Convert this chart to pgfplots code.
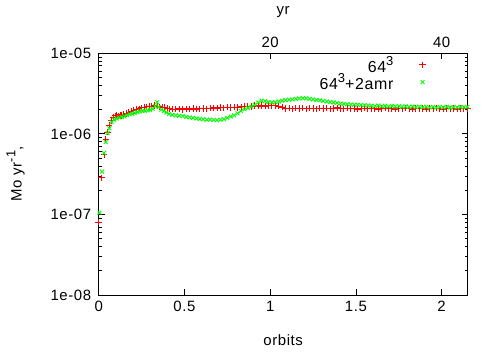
\documentclass[border=0pt]{standalone}
\usepackage{fontspec}
\setmainfont{Liberation Sans}[LetterSpace=4]
\usepackage{pgfplots}
\usepackage{pgfplotstable}
\pgfplotsset{compat=1.18}
\definecolor{gpred}{rgb}{1,0,0}
\definecolor{gpgreen}{rgb}{0,1,0}

\pgfplotstableread{
x y
0.000 8.0e-8
0.017 2.85e-7
0.031 5.5e-7
0.041 8.5e-7
0.052 1.05e-6
0.060 1.27e-6
0.074 1.46e-6
0.085 1.62e-6
0.095 1.68e-6
0.105 1.70e-6
0.115 1.66e-6
0.125 1.72e-6
0.135 1.70e-6
0.145 1.75e-6
0.160 1.80e-6
0.175 1.86e-6
0.190 1.92e-6
0.205 1.96e-6
0.220 2.00e-6
0.235 2.05e-6
0.250 2.10e-6
0.265 2.13e-6
0.280 2.16e-6
0.295 2.18e-6
0.310 2.20e-6
0.325 2.24e-6
0.340 2.20e-6
0.355 2.17e-6
0.370 2.15e-6
0.385 2.12e-6
0.400 2.08e-6
0.415 2.05e-6
0.430 2.03e-6
0.45 2.02e-6
0.47 2.05e-6
0.49 2.01e-6
0.51 2.04e-6
0.53 2.02e-6
0.55 2.06e-6
0.57 2.03e-6
0.59 2.05e-6
0.61 2.07e-6
0.63 2.05e-6
0.65 2.08e-6
0.67 2.10e-6
0.69 2.08e-6
0.71 2.12e-6
0.73 2.10e-6
0.75 2.14e-6
0.77 2.12e-6
0.79 2.15e-6
0.81 2.13e-6
0.83 2.17e-6
0.85 2.20e-6
0.87 2.22e-6
0.89 2.19e-6
0.91 2.24e-6
0.93 2.21e-6
0.95 2.25e-6
0.97 2.22e-6
0.99 2.26e-6
1.01 2.23e-6
1.03 2.25e-6
1.05 2.22e-6
1.07 2.15e-6
1.09 2.06e-6
1.11 2.08e-6
1.13 2.05e-6
1.15 2.09e-6
1.17 2.06e-6
1.19 2.08e-6
1.21 2.05e-6
1.23 2.09e-6
1.25 2.07e-6
1.27 2.05e-6
1.29 2.08e-6
1.31 2.06e-6
1.33 2.09e-6
1.35 2.05e-6
1.37 2.07e-6
1.39 2.10e-6
1.41 2.06e-6
1.43 2.04e-6
1.45 2.08e-6
1.47 2.05e-6
1.49 2.07e-6
1.51 2.03e-6
1.53 2.06e-6
1.55 2.08e-6
1.57 2.04e-6
1.59 2.07e-6
1.61 2.05e-6
1.63 2.02e-6
1.65 2.06e-6
1.67 2.08e-6
1.69 2.04e-6
1.71 2.07e-6
1.73 2.03e-6
1.75 2.06e-6
1.77 2.04e-6
1.79 2.08e-6
1.81 2.05e-6
1.83 2.02e-6
1.85 2.06e-6
1.87 2.04e-6
1.89 2.07e-6
1.91 2.03e-6
1.93 2.06e-6
1.95 2.04e-6
1.97 2.08e-6
1.99 2.05e-6
2.01 2.02e-6
2.03 2.06e-6
2.05 2.04e-6
2.07 2.07e-6
2.09 2.03e-6
2.11 2.06e-6
2.13 2.04e-6
2.15 2.06e-6
}\redtab

\pgfplotstableread{
x y
0.004 1.05e-7
0.020 3.4e-7
0.031 5.8e-7
0.041 7.9e-7
0.052 1.02e-6
0.062 1.17e-6
0.075 1.40e-6
0.090 1.50e-6
0.105 1.55e-6
0.120 1.60e-6
0.135 1.62e-6
0.150 1.65e-6
0.165 1.70e-6
0.180 1.75e-6
0.195 1.78e-6
0.210 1.82e-6
0.225 1.86e-6
0.240 1.90e-6
0.255 1.92e-6
0.270 1.94e-6
0.285 1.96e-6
0.300 1.98e-6
0.315 2.05e-6
0.330 2.20e-6
0.340 2.47e-6
0.350 2.15e-6
0.365 2.00e-6
0.380 1.92e-6
0.395 1.84e-6
0.41 1.77e-6
0.43 1.72e-6
0.45 1.70e-6
0.47 1.68e-6
0.49 1.66e-6
0.51 1.62e-6
0.53 1.60e-6
0.55 1.58e-6
0.57 1.55e-6
0.59 1.53e-6
0.61 1.52e-6
0.63 1.50e-6
0.65 1.50e-6
0.67 1.49e-6
0.69 1.48e-6
0.71 1.50e-6
0.73 1.52e-6
0.75 1.58e-6
0.77 1.64e-6
0.79 1.70e-6
0.81 1.80e-6
0.83 1.92e-6
0.85 2.02e-6
0.87 2.10e-6
0.89 2.18e-6
0.91 2.30e-6
0.93 2.45e-6
0.95 2.58e-6
0.97 2.55e-6
0.99 2.48e-6
1.01 2.45e-6
1.03 2.47e-6
1.05 2.52e-6
1.07 2.58e-6
1.09 2.62e-6
1.11 2.66e-6
1.13 2.68e-6
1.15 2.72e-6
1.17 2.75e-6
1.19 2.77e-6
1.21 2.76e-6
1.23 2.72e-6
1.25 2.68e-6
1.27 2.64e-6
1.29 2.60e-6
1.31 2.56e-6
1.33 2.52e-6
1.35 2.48e-6
1.37 2.45e-6
1.39 2.42e-6
1.41 2.38e-6
1.43 2.35e-6
1.45 2.33e-6
1.47 2.32e-6
1.49 2.30e-6
1.51 2.30e-6
1.53 2.28e-6
1.55 2.27e-6
1.57 2.25e-6
1.59 2.24e-6
1.61 2.21e-6
1.63 2.25e-6
1.65 2.20e-6
1.67 2.23e-6
1.69 2.19e-6
1.71 2.22e-6
1.73 2.18e-6
1.75 2.21e-6
1.77 2.17e-6
1.79 2.20e-6
1.81 2.16e-6
1.83 2.19e-6
1.85 2.15e-6
1.87 2.18e-6
1.89 2.14e-6
1.91 2.17e-6
1.93 2.13e-6
1.95 2.16e-6
1.97 2.12e-6
1.99 2.16e-6
2.01 2.13e-6
2.03 2.17e-6
2.05 2.12e-6
2.07 2.16e-6
2.09 2.13e-6
2.11 2.17e-6
2.13 2.14e-6
2.15 2.16e-6
}\greentab

\newcommand{\sups}[1]{\raisebox{0.8ex}{\fontsize{13}{13}\selectfont #1}}

\begin{document}
\begin{tikzpicture}[font=\fontsize{15}{17}\selectfont]
\begin{axis}[
  at={(0,0)}, anchor=south west,
  scale only axis, width=369bp, height=241.7bp,
  xmin=0, xmax=2.152,
  ymode=log, ymin=1e-8, ymax=1e-5,
  xtick={0,0.5,1,1.5,2},
  xticklabels={0,0.5,1,1.5,2},
  xtick pos=left,
  ytick={1e-8,1e-7,1e-6,1e-5},
  yticklabels={1e-08,1e-07,1e-06,1e-05},
  ytick pos=both,
  tick align=inside,
  major tick length=6bp, minor tick length=3bp,
  axis line style={line width=0.8bp},
  every tick/.style={black, line width=0.8bp},
  xlabel={orbits},
  ylabel={Mo yr\sups{-1},},
  every axis x label/.style={at={(axis description cs:0.5,-0.186)}, anchor=center},
  every axis y label/.style={at={(axis description cs:-0.225,0.5)}, rotate=90, anchor=center},
  xticklabel style={yshift=-3bp},
  yticklabel style={xshift=-4bp},
  legend plot pos=right,
  legend cell align=right,
  legend style={draw=none, fill=none, at={(0.895,1.005)}, anchor=north east, row sep=-4bp, column sep=24bp, font=\fontsize{16}{18}\selectfont},
]
\addplot[only marks, mark=+, color=gpred, mark size=3.2bp, line width=0.9bp] table[x=x,y=y] {\redtab};
\addlegendentry{64\sups{3}}
\addplot[only marks, mark=x, color=gpgreen, mark size=2.7bp, line width=0.9bp] table[x=x,y=y] {\greentab};
\addlegendentry{64\sups{3}+2amr}
\end{axis}
\begin{axis}[
  at={(0,0)}, anchor=south west,
  scale only axis, width=369bp, height=241.7bp,
  xmin=0, xmax=43.04, ymin=0, ymax=1,
  axis x line*=top, axis y line=none,
  xtick={20,40}, xticklabels={20,40},
  tick align=inside,
  major tick length=6bp,
  axis line style={line width=0.8bp, -},
  every tick/.style={black, line width=0.8bp},
  xlabel={yr},
  every axis x label/.style={at={(axis description cs:0.5,1.17)}, anchor=center},
  xticklabel style={yshift=2bp},
]
\addplot[draw=none] coordinates {(0,0)};
\end{axis}
\pgfresetboundingbox
\useasboundingbox (-98.7bp,-60bp) rectangle (383.3bp,295bp);
\end{tikzpicture}
\end{document}
